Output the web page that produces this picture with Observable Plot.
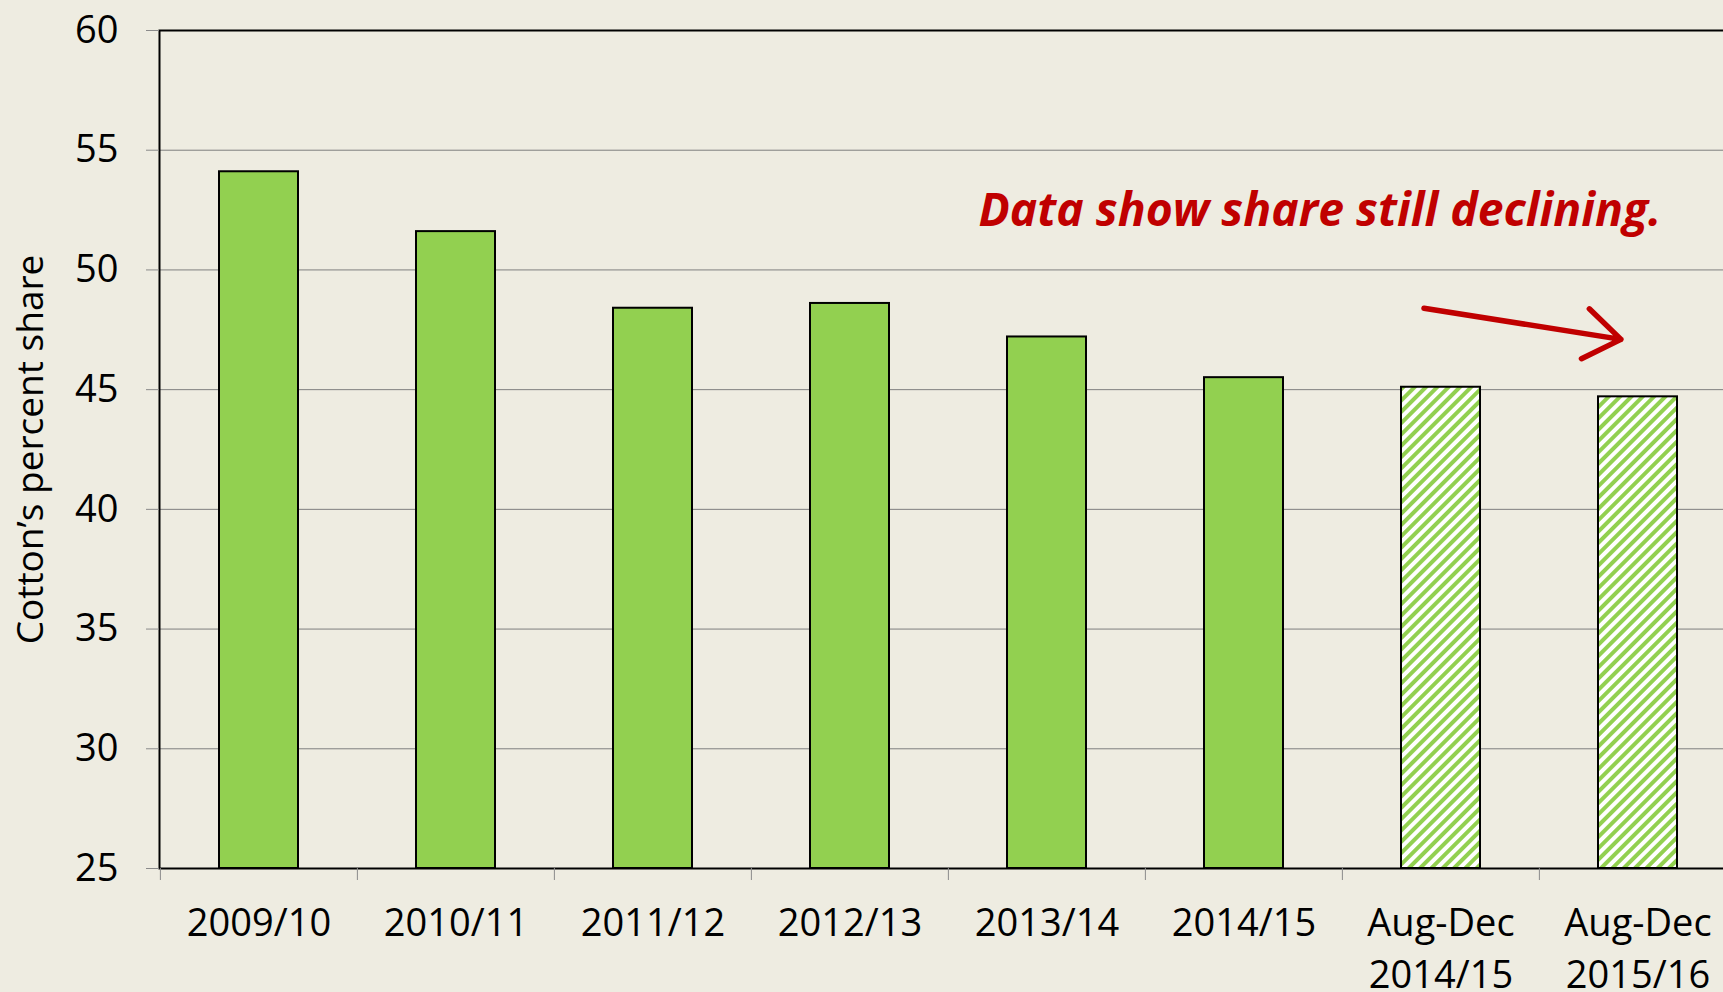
<!DOCTYPE html>
<html><head><meta charset="utf-8">
<script src="https://cdn.jsdelivr.net/npm/d3@7"></script>
<script src="https://cdn.jsdelivr.net/npm/@observablehq/plot@0.6"></script>
<style>
html,body{margin:0;padding:0;background:#EEECE1;overflow:hidden;}
#chart{width:1723px;height:992px;overflow:hidden;}
#chart svg{max-width:none !important;}
g[aria-label="y-axis tick"] path{stroke:#8a8a8a;}
</style></head><body><div id="chart"></div>
<script>
const categories = ["2009/10","2010/11","2011/12","2012/13","2013/14","2014/15","Aug-Dec\n2014/15","Aug-Dec\n2015/16"];
const shares = [54.1, 51.6, 48.4, 48.6, 47.2, 45.5, 45.1, 44.7];
const partialYear = [false,false,false,false,false,false,true,true];
const yTicks = [25,30,35,40,45,50,55,60];
const gridValues = [30,35,40,45,50,55];
const yLabel = "Cotton’s percent share";
const annotationText = "Data show share still declining.";
const arrowFromCategory = categories[6], arrowFromValue = 48.4;
const arrowToCategory = categories[7], arrowToValue = 47.1;

const data = categories.map((c,i)=>({category:c, share:shares[i], partial:partialYear[i]}));

const W = 1740, H = 992, mL = 159, mR = 3, mT = 30, mB = 124;
const padInner = 0.6, padOuter = 0.3;
const step = (W - mL - mR) / (categories.length - padInner + 2*padOuter);

const chart = Plot.plot({
  width: W, height: H,
  marginLeft: mL, marginRight: mR, marginTop: mT, marginBottom: mB,
  style: {background: "#EEECE1", fontFamily: "Open Sans", fontSize: "38px", color: "black", maxWidth: "none"},
  x: {domain: categories, paddingInner: padInner, paddingOuter: padOuter, label: null},
  y: {domain: [25, 60], label: null},
  marks: [
    Plot.ruleY(gridValues, {stroke: "#7f7f7f", strokeWidth: 1}),
    Plot.barY(data.filter(d => !d.partial), {x: "category", y1: 25, y2: "share", fill: "#92D050", stroke: "black", strokeWidth: 2}),
    Plot.barY(data.filter(d => d.partial), {x: "category", y1: 25, y2: "share", fill: "url(#hatch)", stroke: "black", strokeWidth: 2}),
    Plot.frame({stroke: "black", strokeWidth: 2}),
    Plot.axisY({ticks: yTicks, tickSize: 13, tickPadding: 28, label: null, fontSize: 38}),
    Plot.axisX({tickSize: 0, tickPadding: 31, lineHeight: 1.36, label: null, fontSize: 38}),
    Plot.axisX({tickSize: 12, tickFormat: () => "", dx: -step/2, stroke: "#8a8a8a", label: null}),
    Plot.text([yLabel], {frameAnchor: "left", dx: -128, rotate: -90, fontSize: 37, textAnchor: "middle", lineAnchor: "middle", fill: "black"}),
    Plot.text([annotationText], {frameAnchor: "top-left", dx: 819, dy: 195, textAnchor: "start", lineAnchor: "bottom", fill: "#C00000", fontWeight: "bold", fontStyle: "italic", fontSize: 46.3}),
    Plot.arrow([{}], {x1: () => arrowFromCategory, y1: () => arrowFromValue, x2: () => arrowToCategory, y2: () => arrowToValue, dx: -17, stroke: "#C00000", strokeWidth: 5.5, headLength: 12, headAngle: 70})
  ]
});

const ns = "http://www.w3.org/2000/svg";
const defs = document.createElementNS(ns, "defs");
defs.innerHTML = '<pattern id="hatch" patternUnits="userSpaceOnUse" width="8" height="8" patternTransform="rotate(45)"><rect width="8" height="8" fill="white"/><rect width="4" height="8" fill="#92D050"/></pattern>';
chart.insertBefore(defs, chart.firstChild);
document.getElementById("chart").appendChild(chart);
</script></body></html>
